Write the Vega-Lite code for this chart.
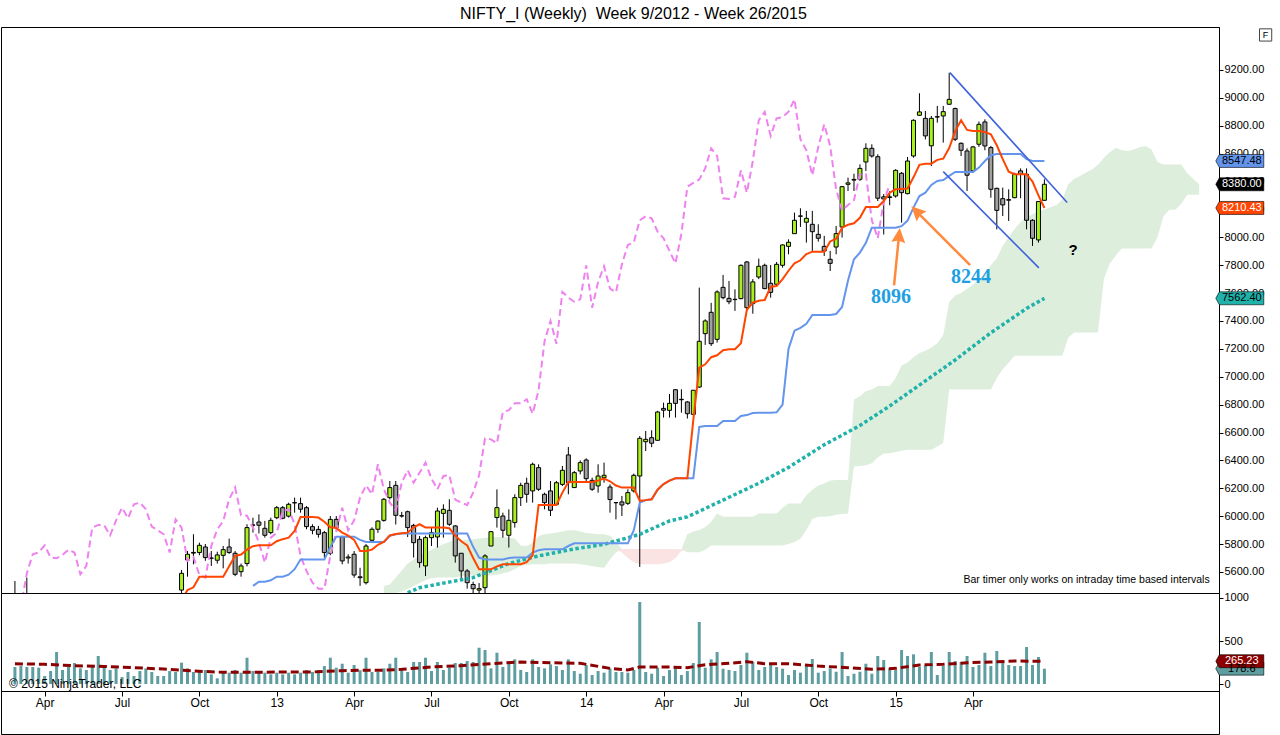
{
  "$schema": "https://vega.github.io/schema/vega-lite/v6.json",
  "background": "white",
  "padding": {"left": 0, "top": 6, "right": 0, "bottom": 0},
  "title": {"text": "NIFTY_I (Weekly)\u00a0 Week 9/2012 - Week 26/2015", "font": "Liberation Sans", "fontSize": 16, "fontWeight": "normal", "color": "black", "anchor": "middle", "offset": 4, "dx": -4},
  "spacing": 0,
  "bounds": "flush",
  "datasets": {
    "weeks": [
      {"d":"2012-03-02","o":5400,"h":5535,"l":5280,"c":5370,"v":198,"ch":5260},
      {"d":"2012-03-09","o":5370,"h":5440,"l":5180,"c":5340,"v":209,"ch":5350},
      {"d":"2012-03-16","o":5340,"h":5560,"l":5300,"c":5330,"v":198,"ch":5590},
      {"d":"2012-03-23","o":5330,"h":5390,"l":5200,"c":5290,"v":198,"ch":5727},
      {"d":"2012-03-30","o":5290,"h":5350,"l":5150,"c":5310,"v":190,"ch":5740},
      {"d":"2012-04-06","o":5310,"h":5380,"l":5220,"c":5330,"v":93,"ch":5791},
      {"d":"2012-04-13","o":5330,"h":5360,"l":5160,"c":5220,"v":151,"ch":5703},
      {"d":"2012-04-20","o":5220,"h":5330,"l":5180,"c":5300,"v":372,"ch":5698},
      {"d":"2012-04-27","o":5300,"h":5320,"l":5160,"c":5200,"v":163,"ch":5722},
      {"d":"2012-05-04","o":5200,"h":5280,"l":5060,"c":5090,"v":198,"ch":5760},
      {"d":"2012-05-11","o":5090,"h":5120,"l":4900,"c":4940,"v":244,"ch":5739},
      {"d":"2012-05-18","o":4940,"h":4990,"l":4800,"c":4900,"v":182,"ch":5583},
      {"d":"2012-05-25","o":4900,"h":4990,"l":4810,"c":4930,"v":163,"ch":5643},
      {"d":"2012-06-01","o":4930,"h":5040,"l":4780,"c":4850,"v":198,"ch":5918},
      {"d":"2012-06-08","o":4850,"h":5090,"l":4790,"c":5070,"v":326,"ch":5937},
      {"d":"2012-06-15","o":5070,"h":5200,"l":5030,"c":5140,"v":209,"ch":5935},
      {"d":"2012-06-22","o":5140,"h":5200,"l":5050,"c":5150,"v":163,"ch":5863},
      {"d":"2012-06-29","o":5150,"h":5300,"l":5060,"c":5290,"v":182,"ch":5970},
      {"d":"2012-07-06","o":5290,"h":5340,"l":5260,"c":5320,"v":81,"ch":6061},
      {"d":"2012-07-13","o":5320,"h":5330,"l":5190,"c":5230,"v":140,"ch":5985},
      {"d":"2012-07-20","o":5230,"h":5350,"l":5180,"c":5210,"v":93,"ch":6085},
      {"d":"2012-07-27","o":5210,"h":5230,"l":5040,"c":5100,"v":151,"ch":6097},
      {"d":"2012-08-03","o":5100,"h":5230,"l":5080,"c":5220,"v":182,"ch":6050},
      {"d":"2012-08-10","o":5220,"h":5340,"l":5170,"c":5330,"v":140,"ch":5925},
      {"d":"2012-08-17","o":5330,"h":5400,"l":5300,"c":5370,"v":93,"ch":5899},
      {"d":"2012-08-24","o":5370,"h":5440,"l":5330,"c":5390,"v":93,"ch":5870},
      {"d":"2012-08-31","o":5390,"h":5420,"l":5240,"c":5260,"v":151,"ch":5739},
      {"d":"2012-09-07","o":5260,"h":5360,"l":5220,"c":5350,"v":140,"ch":5977},
      {"d":"2012-09-14","o":5470,"h":5614,"l":5400,"c":5590,"v":248,"t":5400,"ch":5918},
      {"d":"2012-09-21","o":5686,"h":5750,"l":5566,"c":5727,"v":182,"t":5470,"ch":5679},
      {"d":"2012-09-28","o":5735,"h":5870,"l":5655,"c":5740,"v":140,"t":5490,"ch":5707},
      {"d":"2012-10-05","o":5739,"h":5810,"l":5720,"c":5791,"v":151,"t":5566,"ch":5578},
      {"d":"2012-10-12","o":5779,"h":5800,"l":5680,"c":5703,"v":163,"t":5566,"ch":5559},
      {"d":"2012-10-19","o":5700,"h":5750,"l":5643,"c":5698,"v":112,"t":5566,"ch":5786},
      {"d":"2012-10-26","o":5684,"h":5745,"l":5660,"c":5722,"v":66,"t":5566,"ch":5906},
      {"d":"2012-11-02","o":5719,"h":5786,"l":5626,"c":5760,"v":132,"t":5566,"ch":5965},
      {"d":"2012-11-09","o":5779,"h":5839,"l":5730,"c":5739,"v":132,"t":5640,"ch":6121},
      {"d":"2012-11-16","o":5734,"h":5750,"l":5570,"c":5583,"v":163,"t":5715,"ch":6205},
      {"d":"2012-11-23","o":5602,"h":5660,"l":5566,"c":5643,"v":132,"t":5725,"ch":6006},
      {"d":"2012-11-30","o":5660,"h":5942,"l":5640,"c":5918,"v":306,"t":5760,"ch":6003},
      {"d":"2012-12-07","o":5935,"h":5989,"l":5882,"c":5937,"v":151,"t":5785,"k":5500,"ch":5918},
      {"d":"2012-12-14","o":5958,"h":6013,"l":5876,"c":5935,"v":132,"t":5791,"k":5530,"ch":5810},
      {"d":"2012-12-21","o":5913,"h":5966,"l":5846,"c":5863,"v":132,"t":5791,"k":5530,"ch":5667},
      {"d":"2012-12-28","o":5882,"h":5989,"l":5870,"c":5970,"v":112,"t":5791,"k":5540,"ch":5846},
      {"d":"2013-01-04","o":5989,"h":6073,"l":5978,"c":6061,"v":132,"t":5820,"k":5566,"ch":5882},
      {"d":"2013-01-11","o":6061,"h":6073,"l":5978,"c":5985,"v":112,"t":5835,"k":5566,"ch":6037},
      {"d":"2013-01-18","o":6000,"h":6097,"l":5990,"c":6085,"v":132,"t":5846,"k":5580,"ch":6049},
      {"d":"2013-01-25","o":6095,"h":6133,"l":6025,"c":6097,"v":112,"t":5894,"k":5620,"ch":5942},
      {"d":"2013-02-01","o":6090,"h":6133,"l":6025,"c":6050,"v":132,"t":5994,"k":5690,"ch":5715},
      {"d":"2013-02-08","o":6061,"h":6073,"l":5906,"c":5925,"v":163,"t":5994,"k":5690,"ch":5607},
      {"d":"2013-02-15","o":5925,"h":5942,"l":5870,"c":5899,"v":140,"t":5994,"k":5690,"ch":5523},
      {"d":"2013-02-22","o":5905,"h":5930,"l":5846,"c":5870,"v":163,"t":5990,"k":5690,"ch":5480},
      {"d":"2013-03-01","o":5882,"h":5894,"l":5702,"c":5739,"v":209,"t":5960,"k":5690,"ch":5480},
      {"d":"2013-03-08","o":5734,"h":6001,"l":5720,"c":5977,"v":306,"t":5920,"k":5780,"ch":5715},
      {"d":"2013-03-15","o":5977,"h":6001,"l":5900,"c":5918,"v":190,"t":5915,"k":5853,"ch":5889},
      {"d":"2013-03-22","o":5851,"h":5860,"l":5655,"c":5679,"v":236,"t":5882,"k":5853,"ch":6061},
      {"d":"2013-03-29","o":5700,"h":5727,"l":5660,"c":5707,"v":132,"t":5860,"k":5853,"ch":5899},
      {"d":"2013-04-05","o":5727,"h":5750,"l":5559,"c":5578,"v":221,"t":5830,"k":5853,"ch":5970},
      {"d":"2013-04-12","o":5565,"h":5630,"l":5500,"c":5559,"v":160,"t":5750,"k":5830,"ch":6133},
      {"d":"2013-04-19","o":5523,"h":5800,"l":5510,"c":5786,"v":306,"t":5750,"k":5815,"ch":6221},
      {"d":"2013-04-26","o":5827,"h":5920,"l":5810,"c":5906,"v":140,"t":5760,"k":5815,"ch":6157},
      {"d":"2013-05-03","o":5906,"h":5970,"l":5880,"c":5965,"v":140,"t":5795,"k":5815,"ch":6372},
      {"d":"2013-05-10","o":5970,"h":6130,"l":5960,"c":6121,"v":182,"t":5815,"k":5815,"ch":6193},
      {"d":"2013-05-17","o":6133,"h":6252,"l":6120,"c":6205,"v":236,"t":5862,"k":5860,"ch":6097},
      {"d":"2013-05-24","o":6221,"h":6252,"l":5940,"c":6006,"v":306,"t":5872,"k":5870,"ch":6042},
      {"d":"2013-05-31","o":6001,"h":6030,"l":5990,"c":6003,"v":163,"t":5877,"k":5875,"ch":6240},
      {"d":"2013-06-07","o":6032,"h":6040,"l":5850,"c":5918,"v":140,"t":5882,"k":5875,"ch":6329},
      {"d":"2013-06-14","o":5934,"h":5945,"l":5703,"c":5810,"v":256,"t":5920,"k":5875,"ch":6240},
      {"d":"2013-06-21","o":5834,"h":5858,"l":5631,"c":5667,"v":256,"t":5942,"k":5875,"ch":6312},
      {"d":"2013-06-28","o":5643,"h":5860,"l":5571,"c":5846,"v":306,"t":5918,"k":5875,"ch":6384},
      {"d":"2013-07-05","o":5846,"h":5918,"l":5786,"c":5882,"v":151,"t":5918,"k":5875,"ch":6269},
      {"d":"2013-07-12","o":5851,"h":6061,"l":5775,"c":6037,"v":256,"t":5918,"k":5875,"ch":6193},
      {"d":"2013-07-19","o":6020,"h":6085,"l":5846,"c":6049,"v":163,"t":5918,"k":5875,"ch":6288},
      {"d":"2013-07-26","o":6042,"h":6121,"l":5930,"c":5942,"v":190,"t":5913,"k":5875,"ch":6293},
      {"d":"2013-08-02","o":5930,"h":5935,"l":5667,"c":5715,"v":244,"t":5860,"k":5875,"ch":6119},
      {"d":"2013-08-09","o":5734,"h":5735,"l":5535,"c":5607,"v":244,"t":5820,"k":5875,"ch":6097},
      {"d":"2013-08-16","o":5607,"h":5620,"l":5480,"c":5523,"v":267,"t":5790,"k":5875,"ch":6080},
      {"d":"2013-08-23","o":5510,"h":5530,"l":5380,"c":5480,"v":256,"t":5700,"k":5780,"ch":6169},
      {"d":"2013-08-30","o":5470,"h":5520,"l":5120,"c":5480,"v":422,"t":5619,"k":5703,"ch":6293},
      {"d":"2013-09-06","o":5487,"h":5727,"l":5420,"c":5715,"v":395,"t":5619,"k":5690,"ch":6558},
      {"d":"2013-09-13","o":5786,"h":5894,"l":5786,"c":5889,"v":182,"t":5619,"k":5690,"ch":6551},
      {"d":"2013-09-20","o":5990,"h":6192,"l":5918,"c":6061,"v":364,"t":5640,"k":5690,"ch":6523},
      {"d":"2013-09-27","o":6001,"h":6025,"l":5846,"c":5899,"v":198,"t":5655,"k":5690,"ch":6747},
      {"d":"2013-10-04","o":5863,"h":6049,"l":5775,"c":5970,"v":256,"t":5655,"k":5700,"ch":6760},
      {"d":"2013-10-11","o":5954,"h":6157,"l":5918,"c":6133,"v":287,"t":5655,"k":5703,"ch":6809},
      {"d":"2013-10-18","o":6133,"h":6240,"l":6073,"c":6221,"v":163,"t":5655,"k":5703,"ch":6809},
      {"d":"2013-10-25","o":6236,"h":6276,"l":6097,"c":6157,"v":140,"t":5670,"k":5703,"ch":6838},
      {"d":"2013-11-01","o":6181,"h":6384,"l":6097,"c":6372,"v":287,"t":5720,"k":5739,"ch":6735},
      {"d":"2013-11-08","o":6348,"h":6372,"l":6181,"c":6193,"v":198,"t":6080,"k":5755,"ch":6903},
      {"d":"2013-11-15","o":6157,"h":6169,"l":6049,"c":6097,"v":182,"t":6080,"k":5762,"ch":7254},
      {"d":"2013-11-22","o":6181,"h":6252,"l":6001,"c":6042,"v":229,"t":6080,"k":5762,"ch":7400},
      {"d":"2013-11-29","o":6085,"h":6252,"l":6080,"c":6240,"v":209,"t":6080,"k":5762,"ch":7237},
      {"d":"2013-12-06","o":6228,"h":6360,"l":6216,"c":6329,"v":163,"t":6169,"k":5762,"ch":7608},
      {"d":"2013-12-13","o":6439,"h":6496,"l":6157,"c":6240,"v":287,"t":6245,"k":5786,"ch":7567},
      {"d":"2013-12-20","o":6205,"h":6324,"l":6205,"c":6312,"v":151,"t":6245,"k":5805,"ch":7538},
      {"d":"2013-12-27","o":6324,"h":6400,"l":6300,"c":6384,"v":120,"t":6245,"k":5805,"ch":7555},
      {"d":"2014-01-03","o":6403,"h":6415,"l":6252,"c":6269,"v":221,"t":6245,"k":5805,"ch":7799},
      {"d":"2014-01-10","o":6257,"h":6276,"l":6181,"c":6193,"v":105,"t":6245,"k":5805,"ch":7495},
      {"d":"2014-01-17","o":6217,"h":6372,"l":6169,"c":6288,"v":151,"t":6255,"k":5805,"ch":7680},
      {"d":"2014-01-24","o":6276,"h":6384,"l":6240,"c":6293,"v":132,"t":6270,"k":5805,"ch":7792},
      {"d":"2014-01-31","o":6209,"h":6228,"l":6025,"c":6119,"v":182,"t":6250,"k":5805,"ch":7632},
      {"d":"2014-02-07","o":6097,"h":6097,"l":5977,"c":6097,"v":140,"t":6220,"k":5805,"ch":7605},
      {"d":"2014-02-14","o":6102,"h":6145,"l":6001,"c":6080,"v":140,"t":6205,"k":5805,"ch":7806},
      {"d":"2014-02-21","o":6092,"h":6193,"l":6080,"c":6169,"v":132,"t":6205,"k":5805,"ch":7945},
      {"d":"2014-02-28","o":6181,"h":6305,"l":6169,"c":6293,"v":163,"t":6205,"k":5900,"ch":7964},
      {"d":"2014-03-07","o":6288,"h":6575,"l":5636,"c":6558,"v":953,"t":6110,"k":6097,"ch":8122},
      {"d":"2014-03-14","o":6534,"h":6611,"l":6467,"c":6551,"v":140,"t":6115,"k":6115,"ch":8151},
      {"d":"2014-03-21","o":6563,"h":6616,"l":6495,"c":6523,"v":120,"t":6121,"k":6121,"ch":8136},
      {"d":"2014-03-28","o":6544,"h":6755,"l":6540,"c":6747,"v":190,"t":6190,"k":6190,"ch":8040},
      {"d":"2014-04-04","o":6773,"h":6814,"l":6707,"c":6760,"v":93,"t":6230,"k":6230,"ch":7993},
      {"d":"2014-04-11","o":6759,"h":6876,"l":6707,"c":6809,"v":163,"t":6255,"k":6255,"ch":7902},
      {"d":"2014-04-18","o":6907,"h":6910,"l":6707,"c":6809,"v":198,"t":6272,"k":6272,"ch":7813},
      {"d":"2014-04-25","o":6835,"h":6910,"l":6742,"c":6838,"v":105,"t":6272,"k":6272,"ch":8026},
      {"d":"2014-05-02","o":6819,"h":6826,"l":6700,"c":6735,"v":151,"t":6272,"k":6272,"ch":8363},
      {"d":"2014-05-09","o":6730,"h":6903,"l":6730,"c":6903,"v":244,"t":6690,"k":6272,"ch":8390},
      {"d":"2014-05-16","o":6926,"h":7639,"l":6920,"c":7254,"v":721,"t":7065,"k":6640,"ch":8415},
      {"d":"2014-05-23","o":7309,"h":7412,"l":7228,"c":7400,"v":190,"t":7089,"k":6647,"ch":8494},
      {"d":"2014-05-30","o":7462,"h":7530,"l":7220,"c":7237,"v":287,"t":7140,"k":6647,"ch":8638},
      {"d":"2014-06-06","o":7268,"h":7620,"l":7245,"c":7608,"v":372,"t":7154,"k":6647,"ch":8583},
      {"d":"2014-06-13","o":7641,"h":7730,"l":7555,"c":7567,"v":178,"t":7190,"k":6683,"ch":8280},
      {"d":"2014-06-20","o":7562,"h":7687,"l":7520,"c":7538,"v":163,"t":7197,"k":6683,"ch":8275},
      {"d":"2014-06-27","o":7553,"h":7627,"l":7472,"c":7555,"v":151,"t":7197,"k":6683,"ch":8290},
      {"d":"2014-07-04","o":7560,"h":7805,"l":7555,"c":7799,"v":221,"t":7240,"k":6718,"ch":8480},
      {"d":"2014-07-11","o":7823,"h":7830,"l":7472,"c":7495,"v":364,"t":7480,"k":6725,"ch":8320},
      {"d":"2014-07-18","o":7524,"h":7700,"l":7452,"c":7680,"v":256,"t":7531,"k":6740,"ch":8547},
      {"d":"2014-07-25","o":7715,"h":7847,"l":7700,"c":7792,"v":163,"t":7545,"k":6742,"ch":8839},
      {"d":"2014-08-01","o":7799,"h":7811,"l":7627,"c":7632,"v":198,"t":7550,"k":6742,"ch":8899},
      {"d":"2014-08-08","o":7670,"h":7801,"l":7567,"c":7605,"v":229,"t":7645,"k":6742,"ch":8727},
      {"d":"2014-08-15","o":7663,"h":7823,"l":7651,"c":7806,"v":198,"t":7651,"k":6745,"ch":8853},
      {"d":"2014-08-22","o":7799,"h":7950,"l":7782,"c":7945,"v":178,"t":7700,"k":6800,"ch":8862},
      {"d":"2014-08-29","o":7935,"h":7985,"l":7878,"c":7964,"v":105,"t":7760,"k":7200,"ch":8901},
      {"d":"2014-09-05","o":8026,"h":8177,"l":8026,"c":8122,"v":163,"t":7813,"k":7330,"ch":8989},
      {"d":"2014-09-12","o":8153,"h":8208,"l":8074,"c":8151,"v":132,"t":7835,"k":7350,"ch":8703},
      {"d":"2014-09-19","o":8108,"h":8189,"l":7962,"c":8136,"v":221,"t":7880,"k":7380,"ch":8624},
      {"d":"2014-09-26","o":8093,"h":8189,"l":7902,"c":8040,"v":291,"t":7897,"k":7443,"ch":8445},
      {"d":"2014-10-03","o":8021,"h":8093,"l":7969,"c":7993,"v":132,"t":7897,"k":7443,"ch":8648},
      {"d":"2014-10-10","o":7935,"h":8010,"l":7866,"c":7902,"v":151,"t":7897,"k":7443,"ch":8810},
      {"d":"2014-10-17","o":7842,"h":7902,"l":7758,"c":7813,"v":182,"t":7970,"k":7443,"ch":8655},
      {"d":"2014-10-24","o":7930,"h":8081,"l":7878,"c":8026,"v":143,"t":7990,"k":7450,"ch":8344},
      {"d":"2014-10-31","o":8074,"h":8368,"l":7998,"c":8363,"v":372,"t":8069,"k":7500,"ch":8193},
      {"d":"2014-11-07","o":8380,"h":8428,"l":8332,"c":8390,"v":93,"t":8090,"k":7690,"ch":8232},
      {"d":"2014-11-14","o":8410,"h":8456,"l":8332,"c":8415,"v":120,"t":8100,"k":7842,"ch":8266},
      {"d":"2014-11-21","o":8416,"h":8523,"l":8404,"c":8494,"v":143,"t":8140,"k":7890,"ch":8452},
      {"d":"2014-11-28","o":8540,"h":8674,"l":8475,"c":8638,"v":236,"t":8217,"k":7960,"ch":8452},
      {"d":"2014-12-05","o":8638,"h":8667,"l":8571,"c":8583,"v":120,"t":8217,"k":8069,"ch":8122},
      {"d":"2014-12-12","o":8578,"h":8595,"l":8260,"c":8280,"v":326,"t":8217,"k":8069,"ch":7993},
      {"d":"2014-12-19","o":8290,"h":8310,"l":8020,"c":8275,"v":279,"t":8260,"k":8069,"ch":8256},
      {"d":"2014-12-26","o":8285,"h":8330,"l":8230,"c":8290,"v":182,"t":8320,"k":8069,"ch":8380},
      {"d":"2015-01-02","o":8296,"h":8488,"l":8284,"c":8480,"v":163,"t":8344,"k":8069},
      {"d":"2015-01-09","o":8459,"h":8468,"l":8105,"c":8320,"v":395,"t":8347,"k":8080},
      {"d":"2015-01-16","o":8313,"h":8576,"l":8308,"c":8547,"v":326,"t":8350,"k":8120},
      {"d":"2015-01-23","o":8583,"h":8846,"l":8571,"c":8839,"v":345,"t":8430,"k":8213},
      {"d":"2015-01-30","o":8875,"h":9033,"l":8870,"c":8899,"v":198,"t":8520,"k":8296},
      {"d":"2015-02-06","o":8853,"h":8906,"l":8702,"c":8727,"v":221,"t":8528,"k":8320},
      {"d":"2015-02-13","o":8656,"h":8870,"l":8511,"c":8853,"v":372,"t":8528,"k":8375},
      {"d":"2015-02-20","o":8865,"h":8942,"l":8822,"c":8862,"v":105,"t":8555,"k":8404},
      {"d":"2015-02-27","o":8870,"h":8942,"l":8679,"c":8901,"v":209,"t":8564,"k":8411},
      {"d":"2015-03-06","o":8954,"h":9180,"l":8950,"c":8989,"v":372,"t":8640,"k":8440},
      {"d":"2015-03-13","o":8923,"h":8930,"l":8690,"c":8703,"v":267,"t":8760,"k":8469},
      {"d":"2015-03-20","o":8674,"h":8680,"l":8583,"c":8624,"v":256,"t":8839,"k":8469},
      {"d":"2015-03-27","o":8619,"h":8638,"l":8332,"c":8445,"v":326,"t":8770,"k":8469},
      {"d":"2015-04-03","o":8476,"h":8655,"l":8463,"c":8648,"v":198,"t":8762,"k":8469},
      {"d":"2015-04-10","o":8667,"h":8830,"l":8648,"c":8810,"v":221,"t":8762,"k":8500},
      {"d":"2015-04-17","o":8827,"h":8846,"l":8624,"c":8655,"v":364,"t":8755,"k":8547},
      {"d":"2015-04-24","o":8643,"h":8655,"l":8284,"c":8344,"v":209,"t":8739,"k":8588},
      {"d":"2015-05-01","o":8351,"h":8356,"l":8057,"c":8193,"v":384,"t":8660,"k":8597},
      {"d":"2015-05-08","o":8277,"h":8356,"l":8153,"c":8232,"v":256,"t":8560,"k":8597},
      {"d":"2015-05-15","o":8270,"h":8344,"l":8117,"c":8266,"v":221,"t":8470,"k":8597},
      {"d":"2015-05-22","o":8284,"h":8463,"l":8280,"c":8452,"v":209,"t":8452,"k":8597},
      {"d":"2015-05-29","o":8476,"h":8494,"l":8280,"c":8452,"v":209,"t":8452,"k":8597},
      {"d":"2015-06-05","o":8452,"h":8494,"l":8057,"c":8122,"v":430,"t":8452,"k":8560},
      {"d":"2015-06-12","o":8122,"h":8129,"l":7938,"c":7993,"v":221,"t":8400,"k":8547},
      {"d":"2015-06-19","o":7981,"h":8256,"l":7962,"c":8256,"v":314,"t":8300,"k":8547},
      {"d":"2015-06-26","o":8265,"h":8416,"l":8260,"c":8380,"v":178,"t":8210,"k":8547}
    ],
    "kumo": [
      {"d":"2013-05-10","a":5500,"b":5440},{"d":"2013-05-17","a":5510,"b":5440},{"d":"2013-05-24","a":5560,"b":5450},
      {"d":"2013-05-31","a":5610,"b":5460},{"d":"2013-06-07","a":5660,"b":5480},{"d":"2013-06-14","a":5690,"b":5500},
      {"d":"2013-06-21","a":5720,"b":5520},{"d":"2013-06-28","a":5740,"b":5540},{"d":"2013-07-05","a":5760,"b":5555},
      {"d":"2013-07-12","a":5780,"b":5560},{"d":"2013-07-19","a":5800,"b":5560},{"d":"2013-07-26","a":5815,"b":5560},
      {"d":"2013-08-02","a":5830,"b":5560},{"d":"2013-08-09","a":5830,"b":5570},{"d":"2013-08-16","a":5830,"b":5575},
      {"d":"2013-08-23","a":5835,"b":5575},{"d":"2013-08-30","a":5840,"b":5575},{"d":"2013-09-06","a":5845,"b":5575},
      {"d":"2013-09-13","a":5850,"b":5575},{"d":"2013-09-20","a":5850,"b":5580},{"d":"2013-09-27","a":5850,"b":5590},
      {"d":"2013-10-04","a":5845,"b":5600},{"d":"2013-10-11","a":5840,"b":5620},{"d":"2013-10-18","a":5790,"b":5643},
      {"d":"2013-10-25","a":5786,"b":5650},{"d":"2013-11-01","a":5810,"b":5655},{"d":"2013-11-08","a":5858,"b":5655},
      {"d":"2013-11-15","a":5870,"b":5655},{"d":"2013-11-22","a":5875,"b":5660},{"d":"2013-11-29","a":5882,"b":5660},
      {"d":"2013-12-06","a":5890,"b":5660},{"d":"2013-12-13","a":5899,"b":5660},{"d":"2013-12-20","a":5899,"b":5660},
      {"d":"2013-12-27","a":5890,"b":5655},{"d":"2014-01-03","a":5880,"b":5650},{"d":"2014-01-10","a":5875,"b":5640},
      {"d":"2014-01-17","a":5870,"b":5635},{"d":"2014-01-24","a":5870,"b":5630},{"d":"2014-01-31","a":5860,"b":5690},
      {"d":"2014-02-07","a":5817,"b":5740},{"d":"2014-02-14","a":5762,"b":5762},{"d":"2014-04-25","a":5762,"b":5762},
      {"d":"2014-05-02","a":5870,"b":5742},{"d":"2014-05-09","a":5890,"b":5742},{"d":"2014-05-16","a":5900,"b":5742},
      {"d":"2014-05-23","a":5920,"b":5760},{"d":"2014-05-30","a":5960,"b":5790},{"d":"2014-06-06","a":6019,"b":5790},
      {"d":"2014-06-13","a":5995,"b":5790},{"d":"2014-06-20","a":5995,"b":5790},{"d":"2014-06-27","a":5995,"b":5790},
      {"d":"2014-07-04","a":5995,"b":5790},{"d":"2014-07-11","a":5995,"b":5790},{"d":"2014-07-18","a":5995,"b":5790},
      {"d":"2014-07-25","a":6019,"b":5790},{"d":"2014-08-01","a":6019,"b":5790},{"d":"2014-08-08","a":6019,"b":5790},
      {"d":"2014-08-15","a":6019,"b":5790},{"d":"2014-08-22","a":6060,"b":5790},{"d":"2014-08-29","a":6091,"b":5800},
      {"d":"2014-09-05","a":6091,"b":5815},{"d":"2014-09-12","a":6091,"b":5838},{"d":"2014-09-19","a":6150,"b":5900},
      {"d":"2014-09-26","a":6190,"b":5980},{"d":"2014-10-03","a":6220,"b":5995},{"d":"2014-10-10","a":6235,"b":5995},
      {"d":"2014-10-17","a":6255,"b":6000},{"d":"2014-10-24","a":6260,"b":6010},{"d":"2014-10-31","a":6260,"b":6015},
      {"d":"2014-11-07","a":6260,"b":6019},{"d":"2014-11-14","a":6837,"b":6356},{"d":"2014-11-21","a":6860,"b":6360},
      {"d":"2014-11-28","a":6895,"b":6365},{"d":"2014-12-05","a":6909,"b":6380},{"d":"2014-12-12","a":6933,"b":6420},
      {"d":"2014-12-19","a":6933,"b":6450},{"d":"2014-12-26","a":6933,"b":6452},{"d":"2015-01-02","a":6990,"b":6460},
      {"d":"2015-01-09","a":7080,"b":6470},{"d":"2015-01-16","a":7102,"b":6476},{"d":"2015-01-23","a":7140,"b":6476},
      {"d":"2015-01-30","a":7170,"b":6476},{"d":"2015-02-06","a":7186,"b":6476},{"d":"2015-02-13","a":7210,"b":6476},
      {"d":"2015-02-20","a":7240,"b":6500},{"d":"2015-02-27","a":7300,"b":6524},{"d":"2015-03-06","a":7535,"b":6909},
      {"d":"2015-03-13","a":7583,"b":6909},{"d":"2015-03-20","a":7600,"b":6909},{"d":"2015-03-27","a":7631,"b":6909},
      {"d":"2015-04-03","a":7660,"b":6909},{"d":"2015-04-10","a":7700,"b":6909},{"d":"2015-04-17","a":7740,"b":6909},
      {"d":"2015-04-24","a":7800,"b":6909},{"d":"2015-05-01","a":7850,"b":6990},{"d":"2015-05-08","a":7940,"b":7054},
      {"d":"2015-05-15","a":8000,"b":7100},{"d":"2015-05-22","a":8060,"b":7150},{"d":"2015-05-29","a":8110,"b":7150},
      {"d":"2015-06-05","a":8140,"b":7150},{"d":"2015-06-12","a":8165,"b":7150},{"d":"2015-06-19","a":8185,"b":7150},
      {"d":"2015-06-26","a":8200,"b":7150},{"d":"2015-07-03","a":8215,"b":7150},{"d":"2015-07-10","a":8230,"b":7150},
      {"d":"2015-07-17","a":8269,"b":7150},{"d":"2015-07-24","a":8380,"b":7280},{"d":"2015-07-31","a":8420,"b":7318},
      {"d":"2015-08-07","a":8440,"b":7318},{"d":"2015-08-14","a":8465,"b":7318},{"d":"2015-08-21","a":8486,"b":7318},
      {"d":"2015-08-28","a":8520,"b":7318},{"d":"2015-09-04","a":8570,"b":7700},{"d":"2015-09-11","a":8610,"b":7812},
      {"d":"2015-09-18","a":8642,"b":7870},{"d":"2015-09-25","a":8625,"b":7920},{"d":"2015-10-02","a":8618,"b":7920},
      {"d":"2015-10-09","a":8630,"b":7920},{"d":"2015-10-16","a":8645,"b":7920},{"d":"2015-10-23","a":8654,"b":7920},
      {"d":"2015-10-30","a":8630,"b":7920},{"d":"2015-11-06","a":8540,"b":8000},{"d":"2015-11-13","a":8522,"b":8150},
      {"d":"2015-11-20","a":8522,"b":8197},{"d":"2015-11-27","a":8522,"b":8197},{"d":"2015-12-04","a":8522,"b":8240},
      {"d":"2015-12-11","a":8460,"b":8305},{"d":"2015-12-18","a":8420,"b":8305},{"d":"2015-12-25","a":8380,"b":8305}
    ],
    "kumoRed": [
      {"d":"2014-02-07","a":5762,"b":5762},{"d":"2014-02-14","a":5765,"b":5740},{"d":"2014-02-21","a":5765,"b":5700},
      {"d":"2014-02-28","a":5765,"b":5670},{"d":"2014-03-07","a":5765,"b":5655},{"d":"2014-03-14","a":5765,"b":5655},
      {"d":"2014-03-21","a":5765,"b":5655},{"d":"2014-03-28","a":5765,"b":5655},{"d":"2014-04-04","a":5765,"b":5660},
      {"d":"2014-04-11","a":5765,"b":5670},{"d":"2014-04-18","a":5765,"b":5700},{"d":"2014-04-25","a":5762,"b":5750},
      {"d":"2014-05-02","a":5762,"b":5762}
    ],
    "sma": [
      {"d":"2013-06-07","p":5450},{"d":"2013-06-21","p":5487},{"d":"2013-07-19","p":5520},{"d":"2013-08-23","p":5559},
      {"d":"2013-10-04","p":5660},{"d":"2013-11-08","p":5715},{"d":"2013-12-20","p":5765},{"d":"2014-01-24","p":5798},
      {"d":"2014-02-21","p":5845},{"d":"2014-03-07","p":5870},{"d":"2014-04-11","p":5966},{"d":"2014-05-02","p":5995},
      {"d":"2014-05-23","p":6055},{"d":"2014-06-13","p":6115},{"d":"2014-07-25","p":6236},{"d":"2014-08-29","p":6350},
      {"d":"2014-10-10","p":6512},{"d":"2014-11-21","p":6650},{"d":"2014-12-26","p":6790},{"d":"2015-02-06","p":6970},
      {"d":"2015-03-13","p":7120},{"d":"2015-04-24","p":7315},{"d":"2015-06-05","p":7490},{"d":"2015-06-26","p":7562}
    ],
    "vma": [
      {"d":"2012-03-02","v":236},{"d":"2012-04-06","v":229},{"d":"2012-05-11","v":213},{"d":"2012-06-15","v":205},
      {"d":"2012-07-20","v":190},{"d":"2012-08-24","v":174},{"d":"2012-09-28","v":151},{"d":"2012-11-02","v":136},
      {"d":"2012-12-07","v":136},{"d":"2013-01-11","v":140},{"d":"2013-02-15","v":140},{"d":"2013-03-22","v":155},
      {"d":"2013-04-12","v":160},{"d":"2013-05-10","v":160},{"d":"2013-05-31","v":171},{"d":"2013-07-05","v":198},
      {"d":"2013-08-09","v":213},{"d":"2013-09-13","v":236},{"d":"2013-10-18","v":256},{"d":"2013-11-22","v":248},
      {"d":"2013-12-27","v":240},{"d":"2014-01-31","v":182},{"d":"2014-02-21","v":163},{"d":"2014-03-07","v":198},
      {"d":"2014-04-11","v":198},{"d":"2014-05-02","v":190},{"d":"2014-05-23","v":225},{"d":"2014-06-20","v":240},
      {"d":"2014-07-11","v":260},{"d":"2014-08-01","v":236},{"d":"2014-08-29","v":236},{"d":"2014-10-03","v":209},
      {"d":"2014-11-07","v":190},{"d":"2014-12-05","v":171},{"d":"2015-01-02","v":182},{"d":"2015-01-30","v":221},
      {"d":"2015-02-27","v":229},{"d":"2015-03-27","v":248},{"d":"2015-04-24","v":256},{"d":"2015-05-22","v":267},
      {"d":"2015-06-26","v":265}
    ],
    "channel": [
      {"d":"2015-03-06T20:00:00Z","d2":"2015-07-22T19:00:00Z","p":9181,"p2":8250},
      {"d":"2015-02-27T00:00:00Z","d2":"2015-06-19T12:00:00Z","p":8471,"p2":7781}
    ],
    "arrows": [
      {"d":"2014-12-31T03:00:00Z","d2":"2015-01-06T00:00:00Z","p":7655,"p2":8014},
      {"d":"2015-03-30T15:00:00Z","d2":"2015-01-26T12:00:00Z","p":7800,"p2":8186}
    ],
    "tags": [
      {"d":"2016-02-10T20:00:00Z","p":8547.48,"txt":"8547.48","key":"kijun"},
      {"d":"2016-02-10T20:00:00Z","p":8380.00,"txt":"8380.00","key":"close"},
      {"d":"2016-02-10T20:00:00Z","p":8210.43,"txt":"8210.43","key":"tenkan"},
      {"d":"2016-02-10T20:00:00Z","p":7562.40,"txt":"7562.40","key":"sma"}
    ],
    "volTags": [
      {"d":"2016-02-10T20:00:00Z","v":178.6,"txt":"178.6","key":"vol"},
      {"d":"2016-02-10T20:00:00Z","v":265.23,"txt":"265.23","key":"vma"}
    ]
  },
  "vconcat": [
    {
      "width": 1218,
      "height": 566,
      "encoding": {
        "x": {"field": "d", "type": "temporal", "axis": null,
              "scale": {"type": "utc", "domain": [{"year": 2012, "month": 2, "date": 20, "hours": 12, "utc": true}, {"year": 2016, "month": 1, "date": 11, "hours": 12, "utc": true}]}}
      },
      "layer": [
        {
          "data": {"name": "kumo"},
          "mark": {"type": "area", "color": "#DDEEDC", "clip": true},
          "encoding": {
            "y": {"field": "a", "type": "quantitative", "scale": {"domain": [5449, 9508], "nice": false, "zero": false},
                  "axis": {"orient": "right", "title": null, "format": ".2f", "tickSize": 4, "labelPadding": 1, "values": [5600, 5800, 6000, 6200, 6400, 6600, 6800, 7000, 7200, 7400, 7600, 7800, 8000, 8200, 8400, 8600, 8800, 9000, 9200]}},
            "y2": {"field": "b"}
          }
        },
        {
          "data": {"name": "kumoRed"},
          "mark": {"type": "area", "color": "#FBE3E3", "clip": true},
          "encoding": {
            "y": {"field": "a", "type": "quantitative", "scale": {"domain": [5449, 9508], "nice": false, "zero": false},
                  "axis": {"orient": "right", "title": null, "format": ".2f", "tickSize": 4, "labelPadding": 1, "values": [5600, 5800, 6000, 6200, 6400, 6600, 6800, 7000, 7200, 7400, 7600, 7800, 8000, 8200, 8400, 8600, 8800, 9000, 9200]}},
            "y2": {"field": "b"}
          }
        },
        {
          "data": {"name": "weeks"},
          "mark": {"type": "rule", "color": "black", "strokeWidth": 1, "clip": true},
          "encoding": {
            "y": {"field": "l", "type": "quantitative", "scale": {"domain": [5449, 9508], "nice": false, "zero": false},
                  "axis": {"orient": "right", "title": null, "format": ".2f", "tickSize": 4, "labelPadding": 1, "values": [5600, 5800, 6000, 6200, 6400, 6600, 6800, 7000, 7200, 7400, 7600, 7800, 8000, 8200, 8400, 8600, 8800, 9000, 9200]}},
            "y2": {"field": "h"}
          }
        },
        {
          "data": {"name": "weeks"},
          "mark": {"type": "bar", "width": 4, "stroke": "black", "strokeWidth": 1, "clip": true},
          "encoding": {
            "y": {"field": "o", "type": "quantitative", "scale": {"domain": [5449, 9508], "nice": false, "zero": false},
                  "axis": {"orient": "right", "title": null, "format": ".2f", "tickSize": 4, "labelPadding": 1, "values": [5600, 5800, 6000, 6200, 6400, 6600, 6800, 7000, 7200, 7400, 7600, 7800, 8000, 8200, 8400, 8600, 8800, 9000, 9200]}},
            "y2": {"field": "c"},
            "fill": {"condition": {"test": "datum.c >= datum.o", "value": "#A8F01E"}, "value": "#A0A0A0"}
          }
        },
        {
          "data": {"name": "sma"},
          "mark": {"type": "line", "color": "#20B2AA", "strokeWidth": 3.5, "strokeDash": [3.5, 2.5], "clip": true},
          "encoding": {
            "y": {"field": "p", "type": "quantitative", "scale": {"domain": [5449, 9508], "nice": false, "zero": false},
                  "axis": {"orient": "right", "title": null, "format": ".2f", "tickSize": 4, "labelPadding": 1, "values": [5600, 5800, 6000, 6200, 6400, 6600, 6800, 7000, 7200, 7400, 7600, 7800, 8000, 8200, 8400, 8600, 8800, 9000, 9200]}}
          }
        },
        {
          "data": {"name": "weeks"},
          "transform": [{"filter": "isValid(datum.ch)"}],
          "mark": {"type": "line", "color": "#EE82EE", "strokeWidth": 2, "strokeDash": [7, 4], "clip": true},
          "encoding": {
            "y": {"field": "ch", "type": "quantitative", "scale": {"domain": [5449, 9508], "nice": false, "zero": false},
                  "axis": {"orient": "right", "title": null, "format": ".2f", "tickSize": 4, "labelPadding": 1, "values": [5600, 5800, 6000, 6200, 6400, 6600, 6800, 7000, 7200, 7400, 7600, 7800, 8000, 8200, 8400, 8600, 8800, 9000, 9200]}}
          }
        },
        {
          "data": {"name": "weeks"},
          "transform": [{"filter": "isValid(datum.k)"}],
          "mark": {"type": "line", "color": "#6495ED", "strokeWidth": 2, "clip": true},
          "encoding": {
            "y": {"field": "k", "type": "quantitative", "scale": {"domain": [5449, 9508], "nice": false, "zero": false},
                  "axis": {"orient": "right", "title": null, "format": ".2f", "tickSize": 4, "labelPadding": 1, "values": [5600, 5800, 6000, 6200, 6400, 6600, 6800, 7000, 7200, 7400, 7600, 7800, 8000, 8200, 8400, 8600, 8800, 9000, 9200]}}
          }
        },
        {
          "data": {"name": "weeks"},
          "transform": [{"filter": "isValid(datum.t)"}],
          "mark": {"type": "line", "color": "#FF4500", "strokeWidth": 2, "clip": true},
          "encoding": {
            "y": {"field": "t", "type": "quantitative", "scale": {"domain": [5449, 9508], "nice": false, "zero": false},
                  "axis": {"orient": "right", "title": null, "format": ".2f", "tickSize": 4, "labelPadding": 1, "values": [5600, 5800, 6000, 6200, 6400, 6600, 6800, 7000, 7200, 7400, 7600, 7800, 8000, 8200, 8400, 8600, 8800, 9000, 9200]}}
          }
        },
        {
          "data": {"name": "channel"},
          "mark": {"type": "rule", "color": "#3F63DA", "strokeWidth": 1.6},
          "encoding": {
            "x2": {"field": "d2"},
            "y": {"field": "p", "type": "quantitative", "scale": {"domain": [5449, 9508], "nice": false, "zero": false},
                  "axis": {"orient": "right", "title": null, "format": ".2f", "tickSize": 4, "labelPadding": 1, "values": [5600, 5800, 6000, 6200, 6400, 6600, 6800, 7000, 7200, 7400, 7600, 7800, 8000, 8200, 8400, 8600, 8800, 9000, 9200]}},
            "y2": {"field": "p2"}
          }
        },
        {
          "data": {"name": "arrows"},
          "mark": {"type": "rule", "color": "#FF8A3D", "strokeWidth": 2.5},
          "encoding": {
            "x2": {"field": "d2"},
            "y": {"field": "p", "type": "quantitative", "scale": {"domain": [5449, 9508], "nice": false, "zero": false},
                  "axis": {"orient": "right", "title": null, "format": ".2f", "tickSize": 4, "labelPadding": 1, "values": [5600, 5800, 6000, 6200, 6400, 6600, 6800, 7000, 7200, 7400, 7600, 7800, 8000, 8200, 8400, 8600, 8800, 9000, 9200]}},
            "y2": {"field": "p2"}
          }
        },
        {
          "data": {"values": [{"d": "2015-01-06T00:00:00Z", "p": 8014}]},
          "mark": {"type": "point", "shape": "M 0 -1 L 0.96 1 L 0 0.72 L -0.96 1 Z", "size": 210, "filled": true, "opacity": 1, "color": "#FF8A3D", "angle": 6},
          "encoding": {
            "y": {"field": "p", "type": "quantitative", "scale": {"domain": [5449, 9508], "nice": false, "zero": false},
                  "axis": {"orient": "right", "title": null, "format": ".2f", "tickSize": 4, "labelPadding": 1, "values": [5600, 5800, 6000, 6200, 6400, 6600, 6800, 7000, 7200, 7400, 7600, 7800, 8000, 8200, 8400, 8600, 8800, 9000, 9200]}}
          }
        },
        {
          "data": {"values": [{"d": "2015-01-26T12:00:00Z", "p": 8186}]},
          "mark": {"type": "point", "shape": "M 0 -1 L 0.96 1 L 0 0.72 L -0.96 1 Z", "size": 210, "filled": true, "opacity": 1, "color": "#FF8A3D", "angle": 315},
          "encoding": {
            "y": {"field": "p", "type": "quantitative", "scale": {"domain": [5449, 9508], "nice": false, "zero": false},
                  "axis": {"orient": "right", "title": null, "format": ".2f", "tickSize": 4, "labelPadding": 1, "values": [5600, 5800, 6000, 6200, 6400, 6600, 6800, 7000, 7200, 7400, 7600, 7800, 8000, 8200, 8400, 8600, 8800, 9000, 9200]}}
          }
        },
        {
          "data": {"values": [{"d": "2014-12-27T14:00:00Z", "p": 7571, "txt": "8096"}, {"d": "2015-03-31T19:00:00Z", "p": 7716, "txt": "8244"}]},
          "mark": {"type": "text", "font": "Liberation Serif", "fontSize": 20, "fontWeight": "bold", "color": "#1E9FE3", "align": "center", "baseline": "middle"},
          "encoding": {
            "text": {"field": "txt"},
            "y": {"field": "p", "type": "quantitative", "scale": {"domain": [5449, 9508], "nice": false, "zero": false},
                  "axis": {"orient": "right", "title": null, "format": ".2f", "tickSize": 4, "labelPadding": 1, "values": [5600, 5800, 6000, 6200, 6400, 6600, 6800, 7000, 7200, 7400, 7600, 7800, 8000, 8200, 8400, 8600, 8800, 9000, 9200]}}
          }
        },
        {
          "data": {"values": [{"d": "2015-07-29T14:00:00Z", "p": 7908, "txt": "?"}]},
          "mark": {"type": "text", "font": "Liberation Sans", "fontSize": 15, "fontWeight": "bold", "color": "black", "align": "center", "baseline": "middle"},
          "encoding": {
            "text": {"field": "txt"},
            "y": {"field": "p", "type": "quantitative", "scale": {"domain": [5449, 9508], "nice": false, "zero": false},
                  "axis": {"orient": "right", "title": null, "format": ".2f", "tickSize": 4, "labelPadding": 1, "values": [5600, 5800, 6000, 6200, 6400, 6600, 6800, 7000, 7200, 7400, 7600, 7800, 8000, 8200, 8400, 8600, 8800, 9000, 9200]}}
          }
        },
        {
          "data": {"values": [{"d": "2016-01-06T10:00:00Z", "p": 5542, "txt": "Bar timer only works on intraday time based intervals"}]},
          "mark": {"type": "text", "font": "Liberation Sans", "fontSize": 10.5, "color": "black", "align": "right", "baseline": "middle"},
          "encoding": {
            "text": {"field": "txt"},
            "y": {"field": "p", "type": "quantitative", "scale": {"domain": [5449, 9508], "nice": false, "zero": false},
                  "axis": {"orient": "right", "title": null, "format": ".2f", "tickSize": 4, "labelPadding": 1, "values": [5600, 5800, 6000, 6200, 6400, 6600, 6800, 7000, 7200, 7400, 7600, 7800, 8000, 8200, 8400, 8600, 8800, 9000, 9200]}}
          }
        },
        {
          "data": {"name": "tags"},
          "mark": {"type": "point", "shape": "M -1 0 L -0.85 -0.27 L 1 -0.27 L 1 0.27 L -0.85 0.27 Z", "size": 2304, "filled": true, "opacity": 1, "stroke": "black", "strokeWidth": 0.6},
          "encoding": {
            "y": {"field": "p", "type": "quantitative", "scale": {"domain": [5449, 9508], "nice": false, "zero": false},
                  "axis": {"orient": "right", "title": null, "format": ".2f", "tickSize": 4, "labelPadding": 1, "values": [5600, 5800, 6000, 6200, 6400, 6600, 6800, 7000, 7200, 7400, 7600, 7800, 8000, 8200, 8400, 8600, 8800, 9000, 9200]}},
            "color": {"field": "key", "type": "nominal", "legend": null,
                      "scale": {"domain": ["kijun", "close", "tenkan", "sma", "vol", "vma"], "range": ["#6495ED", "#000000", "#FF4500", "#20B2AA", "#5F9EA0", "#8B0000"]}}
          }
        },
        {
          "data": {"name": "tags"},
          "mark": {"type": "text", "font": "Liberation Sans", "fontSize": 11, "align": "center", "baseline": "middle", "dx": 2},
          "encoding": {
            "text": {"field": "txt"},
            "y": {"field": "p", "type": "quantitative", "scale": {"domain": [5449, 9508], "nice": false, "zero": false},
                  "axis": {"orient": "right", "title": null, "format": ".2f", "tickSize": 4, "labelPadding": 1, "values": [5600, 5800, 6000, 6200, 6400, 6600, 6800, 7000, 7200, 7400, 7600, 7800, 8000, 8200, 8400, 8600, 8800, 9000, 9200]}},
            "fill": {"field": "key", "type": "nominal", "legend": null,
                     "scale": {"domain": ["kijun", "close", "tenkan", "sma", "vol", "vma"], "range": ["#000000", "#FFFFFF", "#FFFFFF", "#000000", "#000000", "#FFFFFF"]}}
          }
        },
        {
          "data": {"values": [{"d": "2016-03-12T05:00:00Z", "p": 9451, "txt": "F"}]},
          "mark": {"type": "point", "shape": "square", "size": 150, "filled": true, "opacity": 1, "color": "white", "stroke": "#444444", "strokeWidth": 1},
          "encoding": {
            "y": {"field": "p", "type": "quantitative", "scale": {"domain": [5449, 9508], "nice": false, "zero": false},
                  "axis": {"orient": "right", "title": null, "format": ".2f", "tickSize": 4, "labelPadding": 1, "values": [5600, 5800, 6000, 6200, 6400, 6600, 6800, 7000, 7200, 7400, 7600, 7800, 8000, 8200, 8400, 8600, 8800, 9000, 9200]}}
          }
        },
        {
          "data": {"values": [{"d": "2016-03-12T05:00:00Z", "p": 9451, "txt": "F"}]},
          "mark": {"type": "text", "font": "Liberation Sans", "fontSize": 9, "color": "black", "align": "center", "baseline": "middle"},
          "encoding": {
            "text": {"field": "txt"},
            "y": {"field": "p", "type": "quantitative", "scale": {"domain": [5449, 9508], "nice": false, "zero": false},
                  "axis": {"orient": "right", "title": null, "format": ".2f", "tickSize": 4, "labelPadding": 1, "values": [5600, 5800, 6000, 6200, 6400, 6600, 6800, 7000, 7200, 7400, 7600, 7800, 8000, 8200, 8400, 8600, 8800, 9000, 9200]}}
          }
        }
      ]
    },
    {
      "width": 1218,
      "height": 141,
      "encoding": {
        "x": {"field": "d", "type": "temporal",
              "scale": {"type": "utc", "domain": [{"year": 2012, "month": 2, "date": 20, "hours": 12, "utc": true}, {"year": 2016, "month": 1, "date": 11, "hours": 12, "utc": true}]},
              "axis": {"orient": "bottom", "offset": -43, "title": null, "tickSize": 5, "labelFontSize": 12, "labelPadding": 1, "labelOverlap": false, "labelFlush": false,
                       "values": [
                         {"year": 2012, "month": 4, "date": 6, "utc": true}, {"year": 2012, "month": 7, "date": 6, "utc": true}, {"year": 2012, "month": 10, "date": 5, "utc": true},
                         {"year": 2013, "month": 1, "date": 4, "utc": true}, {"year": 2013, "month": 4, "date": 5, "utc": true}, {"year": 2013, "month": 7, "date": 5, "utc": true}, {"year": 2013, "month": 10, "date": 4, "utc": true},
                         {"year": 2014, "month": 1, "date": 3, "utc": true}, {"year": 2014, "month": 4, "date": 4, "utc": true}, {"year": 2014, "month": 7, "date": 4, "utc": true}, {"year": 2014, "month": 10, "date": 3, "utc": true},
                         {"year": 2015, "month": 1, "date": 2, "utc": true}, {"year": 2015, "month": 4, "date": 3, "utc": true}],
                       "labelExpr": "utcmonth(datum.value) === 0 ? utcFormat(datum.value, '%y') : utcFormat(datum.value, '%b')"}}
      },
      "layer": [
        {
          "data": {"name": "weeks"},
          "mark": {"type": "bar", "width": 3, "color": "#5F9EA0", "clip": true},
          "encoding": {
            "y": {"field": "v", "type": "quantitative", "scale": {"domain": [-581, 1058], "nice": false, "zero": false},
                  "axis": {"orient": "right", "title": null, "format": "d", "tickSize": 4, "labelPadding": 1, "domain": false, "values": [0, 500, 1000]}},
            "y2": {"datum": 0}
          }
        },
        {
          "data": {"name": "vma"},
          "mark": {"type": "line", "color": "#8B0000", "strokeWidth": 3, "strokeDash": [8, 4], "clip": true},
          "encoding": {
            "y": {"field": "v", "type": "quantitative", "scale": {"domain": [-581, 1058], "nice": false, "zero": false},
                  "axis": {"orient": "right", "title": null, "format": "d", "tickSize": 4, "labelPadding": 1, "domain": false, "values": [0, 500, 1000]}}
          }
        },
        {
          "data": {"values": [{"d": "2012-02-24T00:00:00Z", "v": 6, "txt": "© 2015 NinjaTrader, LLC"}]},
          "mark": {"type": "text", "font": "Liberation Sans", "fontSize": 12, "color": "black", "align": "left", "baseline": "middle"},
          "encoding": {
            "text": {"field": "txt"},
            "y": {"field": "v", "type": "quantitative", "scale": {"domain": [-581, 1058], "nice": false, "zero": false},
                  "axis": {"orient": "right", "title": null, "format": "d", "tickSize": 4, "labelPadding": 1, "domain": false, "values": [0, 500, 1000]}}
          }
        },
        {
          "data": {"name": "volTags"},
          "mark": {"type": "point", "shape": "M -1 0 L -0.85 -0.27 L 1 -0.27 L 1 0.27 L -0.85 0.27 Z", "size": 2304, "filled": true, "opacity": 1, "stroke": "black", "strokeWidth": 0.6},
          "encoding": {
            "y": {"field": "v", "type": "quantitative", "scale": {"domain": [-581, 1058], "nice": false, "zero": false},
                  "axis": {"orient": "right", "title": null, "format": "d", "tickSize": 4, "labelPadding": 1, "domain": false, "values": [0, 500, 1000]}},
            "color": {"field": "key", "type": "nominal", "legend": null,
                      "scale": {"domain": ["kijun", "close", "tenkan", "sma", "vol", "vma"], "range": ["#6495ED", "#000000", "#FF4500", "#20B2AA", "#5F9EA0", "#8B0000"]}}
          }
        },
        {
          "data": {"name": "volTags"},
          "mark": {"type": "text", "font": "Liberation Sans", "fontSize": 11, "align": "center", "baseline": "middle", "dx": 2},
          "encoding": {
            "text": {"field": "txt"},
            "y": {"field": "v", "type": "quantitative", "scale": {"domain": [-581, 1058], "nice": false, "zero": false},
                  "axis": {"orient": "right", "title": null, "format": "d", "tickSize": 4, "labelPadding": 1, "domain": false, "values": [0, 500, 1000]}},
            "fill": {"field": "key", "type": "nominal", "legend": null,
                     "scale": {"domain": ["kijun", "close", "tenkan", "sma", "vol", "vma"], "range": ["#000000", "#FFFFFF", "#FFFFFF", "#000000", "#000000", "#FFFFFF"]}}
          }
        }
      ]
    }
  ],
  "config": {
    "view": {"stroke": "black", "strokeWidth": 1},
    "axis": {"labelFont": "Liberation Sans", "labelFontSize": 11, "labelColor": "black", "domainColor": "black", "tickColor": "black", "grid": false, "domainWidth": 1, "tickWidth": 1},
    "text": {"font": "Liberation Sans"}
  }
}
